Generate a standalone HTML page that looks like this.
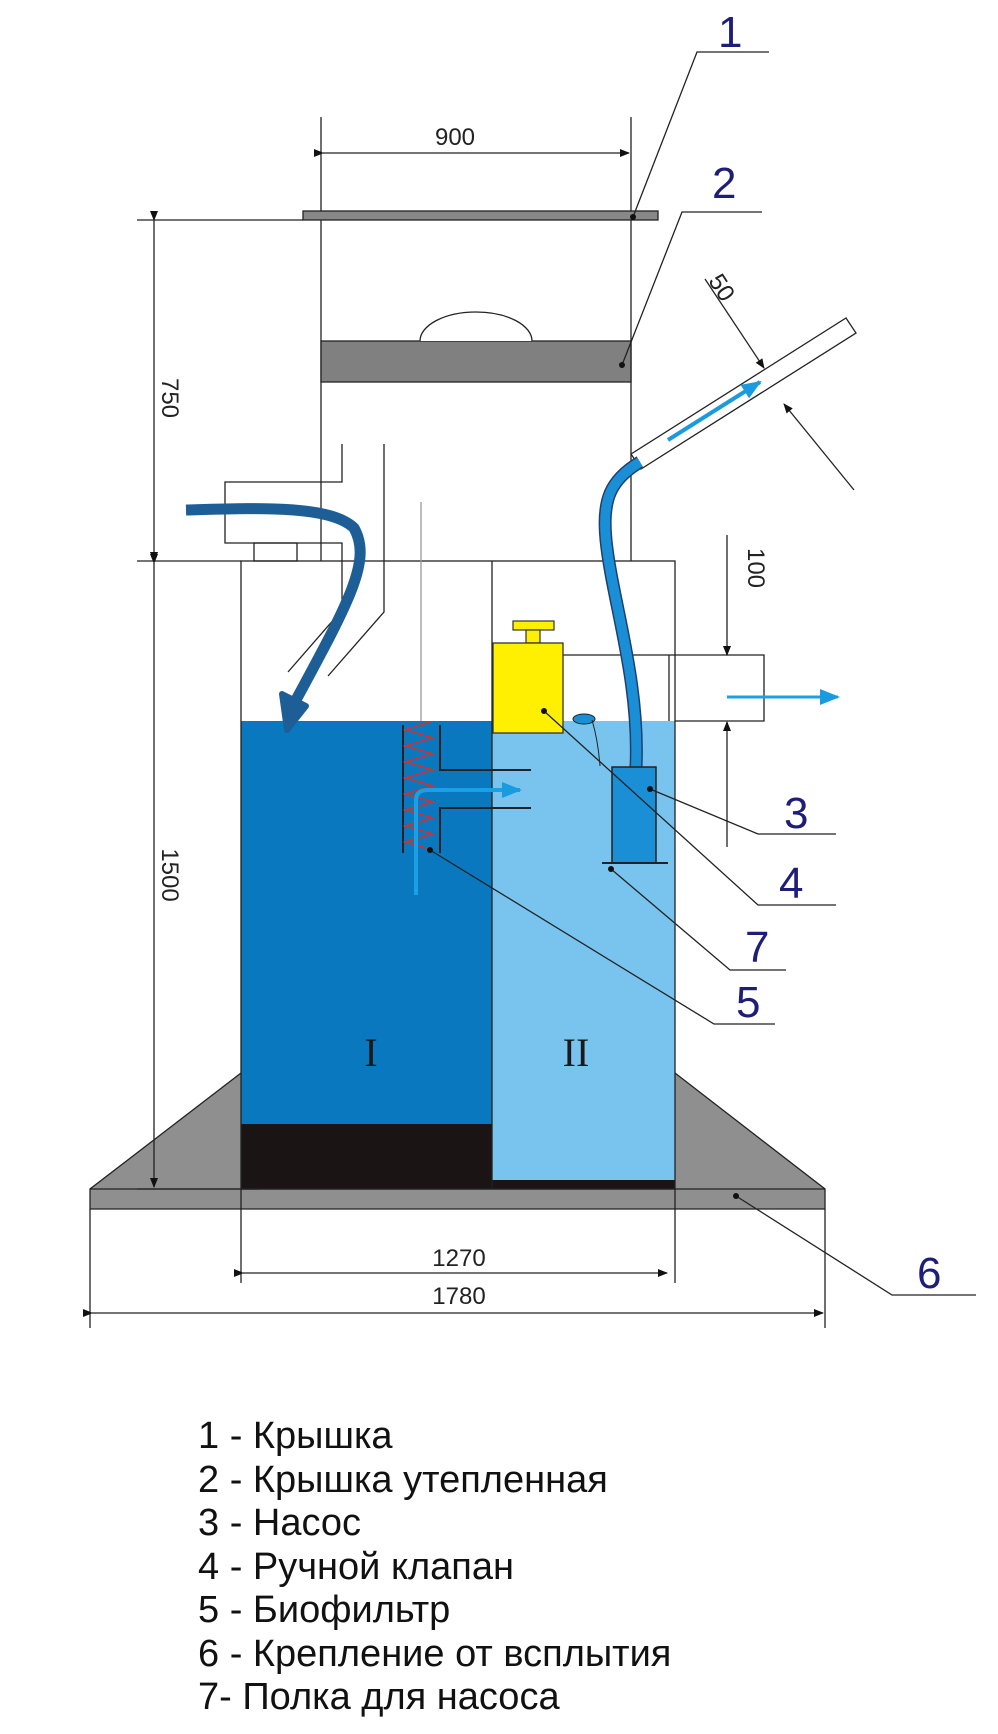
<!DOCTYPE html>
<html><head><meta charset="utf-8"><style>
html,body{margin:0;padding:0;background:#fff;}
svg{display:block;}
.dim{font-family:"Liberation Sans",sans-serif;font-size:24px;fill:#222;}
.lab{font-family:"Liberation Sans",sans-serif;font-size:44px;fill:#1e1e78;}
.leg{font-family:"Liberation Sans","DejaVu Sans",sans-serif;font-size:38px;fill:#111;}
</style></head><body>
<svg width="998" height="1734" viewBox="0 0 998 1734" xmlns="http://www.w3.org/2000/svg">
<defs>
<marker id="ah" markerWidth="10" markerHeight="8" refX="9" refY="4" orient="auto" markerUnits="userSpaceOnUse"><path d="M0,0 L10,4 L0,8 Z" fill="#111"/></marker>
<marker id="ab" markerWidth="20" markerHeight="16" refX="18" refY="8" orient="auto" markerUnits="userSpaceOnUse"><path d="M0,0 L20,8 L0,16 Z" fill="#1a9be0"/></marker>
</defs>
<g stroke="#222" stroke-width="1.3" fill="none">
<path d="M241,1073 L90,1189 L90,1209 L825,1209 L825,1189 L675,1073 Z" fill="#8f8f8f"/>
<line x1="90" y1="1189" x2="825" y2="1189"/>
</g>
<rect x="241" y="721" width="251" height="403" fill="#0a78be"/>
<rect x="241" y="1124" width="251" height="65" fill="#1a1414"/>
<rect x="492" y="721" width="183" height="459" fill="#79c4ee"/>
<rect x="492" y="1180" width="183" height="9" fill="#1a1414"/>
<g stroke="#222" stroke-width="1.3" fill="none">
<rect x="241" y="561" width="434" height="628"/>
<line x1="492" y1="561" x2="492" y2="1189"/>
<line x1="321" y1="117" x2="321" y2="561"/>
<line x1="631" y1="117" x2="631" y2="561"/>
<rect x="303" y="211" width="355" height="9" fill="#888"/>
<rect x="321" y="341" width="310" height="41" fill="#808080"/>
<path d="M420,341 A56,29 0 0 1 532,341" fill="#fff"/>
<path d="M342,444 L342,482 L225,482 L225,543 L342,543 L342,610 L288,672"/>
<path d="M384,444 L384,612 L328,676"/>
<rect x="254" y="543" width="43" height="18"/>
<line x1="421" y1="502" x2="421" y2="721" stroke="#999"/>
<path d="M563,655 L764,655 L764,721 L675,721"/>
<line x1="669" y1="655" x2="669" y2="721"/>
<line x1="137" y1="220" x2="303" y2="220"/>
<line x1="137" y1="561" x2="241" y2="561"/>
<line x1="154" y1="220" x2="154" y2="561" marker-start="url(#ah)" marker-end="url(#ah)"/>
<line x1="154" y1="563" x2="154" y2="1187" marker-start="url(#ah)" marker-end="url(#ah)"/>
<line x1="137" y1="1189" x2="260" y2="1189"/>
<line x1="323" y1="153" x2="629" y2="153" marker-start="url(#ah)" marker-end="url(#ah)"/>
<line x1="241" y1="1189" x2="241" y2="1283"/>
<line x1="675" y1="1189" x2="675" y2="1283"/>
<line x1="243" y1="1273" x2="667" y2="1273" marker-start="url(#ah)" marker-end="url(#ah)"/>
<line x1="90" y1="1209" x2="90" y2="1328"/>
<line x1="825" y1="1209" x2="825" y2="1328"/>
<line x1="92" y1="1313" x2="823" y2="1313" marker-start="url(#ah)" marker-end="url(#ah)"/>
<line x1="727" y1="535" x2="727" y2="655" marker-end="url(#ah)"/>
<line x1="727" y1="847" x2="727" y2="722" marker-end="url(#ah)"/>
<line x1="705" y1="279" x2="764" y2="368" marker-end="url(#ah)"/>
<line x1="854" y1="490" x2="784" y2="404" marker-end="url(#ah)"/>
</g>
<polygon points="631,454 846,318 856,333 641,469" fill="#fff" stroke="#222" stroke-width="1.3"/>
<path d="M640,462 C610,480 602,500 606,540 C612,600 640,680 636,767" stroke="#1f3f70" stroke-width="13" fill="none"/>
<path d="M640,462 C610,480 602,500 606,540 C612,600 640,680 636,767" stroke="#1a8fd6" stroke-width="10" fill="none"/>
<line x1="668" y1="440" x2="760" y2="382" stroke="#1a9be0" stroke-width="4" marker-end="url(#ab)"/>
<rect x="513" y="621" width="41" height="9" fill="#ffef00" stroke="#333" stroke-width="1.2"/>
<rect x="526" y="630" width="14" height="13" fill="#ffef00" stroke="#333" stroke-width="1.2"/>
<rect x="493" y="643" width="70" height="90" fill="#ffef00" stroke="#333" stroke-width="1.3"/>
<ellipse cx="584" cy="719" rx="11" ry="5" fill="#1a8fd6" stroke="#222"/>
<path d="M592,720 Q598,740 600,766" stroke="#222" fill="none"/>
<rect x="612" y="767" width="44" height="96" fill="#1a8fd6" stroke="#222" stroke-width="1.5"/>
<line x1="602" y1="863" x2="668" y2="863" stroke="#222" stroke-width="2"/>
<g stroke="#222" stroke-width="2" fill="none">
<line x1="403" y1="725" x2="403" y2="853"/>
<path d="M440,725 L440,770 L531,770"/>
<path d="M531,808 L440,808 L440,853"/>
</g>
<path d="M430,722 L405,730 L433,738 L405,746 L433,754 L405,762 L433,770 L405,778 L433,786 L405,794 L433,802 L405,810 L433,818 L405,826 L433,834 L405,842 L433,850" stroke="#d23030" stroke-width="1.5" fill="none"/>
<path d="M416,895 L416,800 Q416,790 428,790 L520,790" stroke="#1aa0e6" stroke-width="4" fill="none" marker-end="url(#ab)"/>
<path d="M186,510 C260,508 330,505 354,528 C372,560 350,600 296,700" stroke="#1d5e96" stroke-width="11" fill="none"/>
<path d="M282,694 L306,706 L287,730 Z" fill="#1d5e96" stroke="#1d5e96" stroke-width="6" stroke-linejoin="round"/>
<line x1="727" y1="697" x2="838" y2="697" stroke="#1aa0e6" stroke-width="3" marker-end="url(#ab)"/>
<g stroke="#222" stroke-width="1.3" fill="none">
<path d="M633,217 L697,52 L769,52"/>
<path d="M622,365 L682,212 L762,212"/>
<path d="M650,789 L758,834 L836,834"/>
<path d="M544,711 L758,905 L836,905"/>
<path d="M611,869 L730,970 L786,970"/>
<path d="M430,850 L714,1024 L775,1024"/>
<path d="M736,1196 L892,1295 L976,1295"/>
</g>
<g fill="#111">
<circle cx="633" cy="217" r="3"/><circle cx="622" cy="365" r="3"/><circle cx="650" cy="789" r="3"/>
<circle cx="544" cy="711" r="3"/><circle cx="611" cy="869" r="3"/><circle cx="430" cy="850" r="3"/><circle cx="736" cy="1196" r="3"/>
</g>
<text class="lab" x="718" y="47">1</text>
<text class="lab" x="712" y="198">2</text>
<text class="lab" x="784" y="828">3</text>
<text class="lab" x="779" y="898">4</text>
<text class="lab" x="745" y="962">7</text>
<text class="lab" x="736" y="1017">5</text>
<text class="lab" x="917" y="1288">6</text>
<text x="371" y="1066" font-family="Liberation Serif,serif" font-size="40" fill="#1a1a1a" text-anchor="middle">I</text>
<text x="576" y="1066" font-family="Liberation Serif,serif" font-size="40" fill="#1a1a1a" text-anchor="middle">II</text>
<text class="dim" x="455" y="145" text-anchor="middle">900</text>
<text class="dim" x="459" y="1266" text-anchor="middle">1270</text>
<text class="dim" x="459" y="1304" text-anchor="middle">1780</text>
<text class="dim" transform="translate(162,398) rotate(90)" text-anchor="middle">750</text>
<text class="dim" transform="translate(162,875) rotate(90)" text-anchor="middle">1500</text>
<text class="dim" transform="translate(748,568) rotate(90)" text-anchor="middle">100</text>
<text class="dim" transform="translate(715,292) rotate(57)" text-anchor="middle">50</text>
<text class="leg" x="198" y="1448">1 - Крышка</text>
<text class="leg" x="198" y="1492">2 - Крышка утепленная</text>
<text class="leg" x="198" y="1535">3 - Насос</text>
<text class="leg" x="198" y="1579">4 - Ручной клапан</text>
<text class="leg" x="198" y="1622">5 - Биофильтр</text>
<text class="leg" x="198" y="1666">6 - Крепление от всплытия</text>
<text class="leg" x="198" y="1709">7- Полка для насоса</text>
</svg>
</body></html>
